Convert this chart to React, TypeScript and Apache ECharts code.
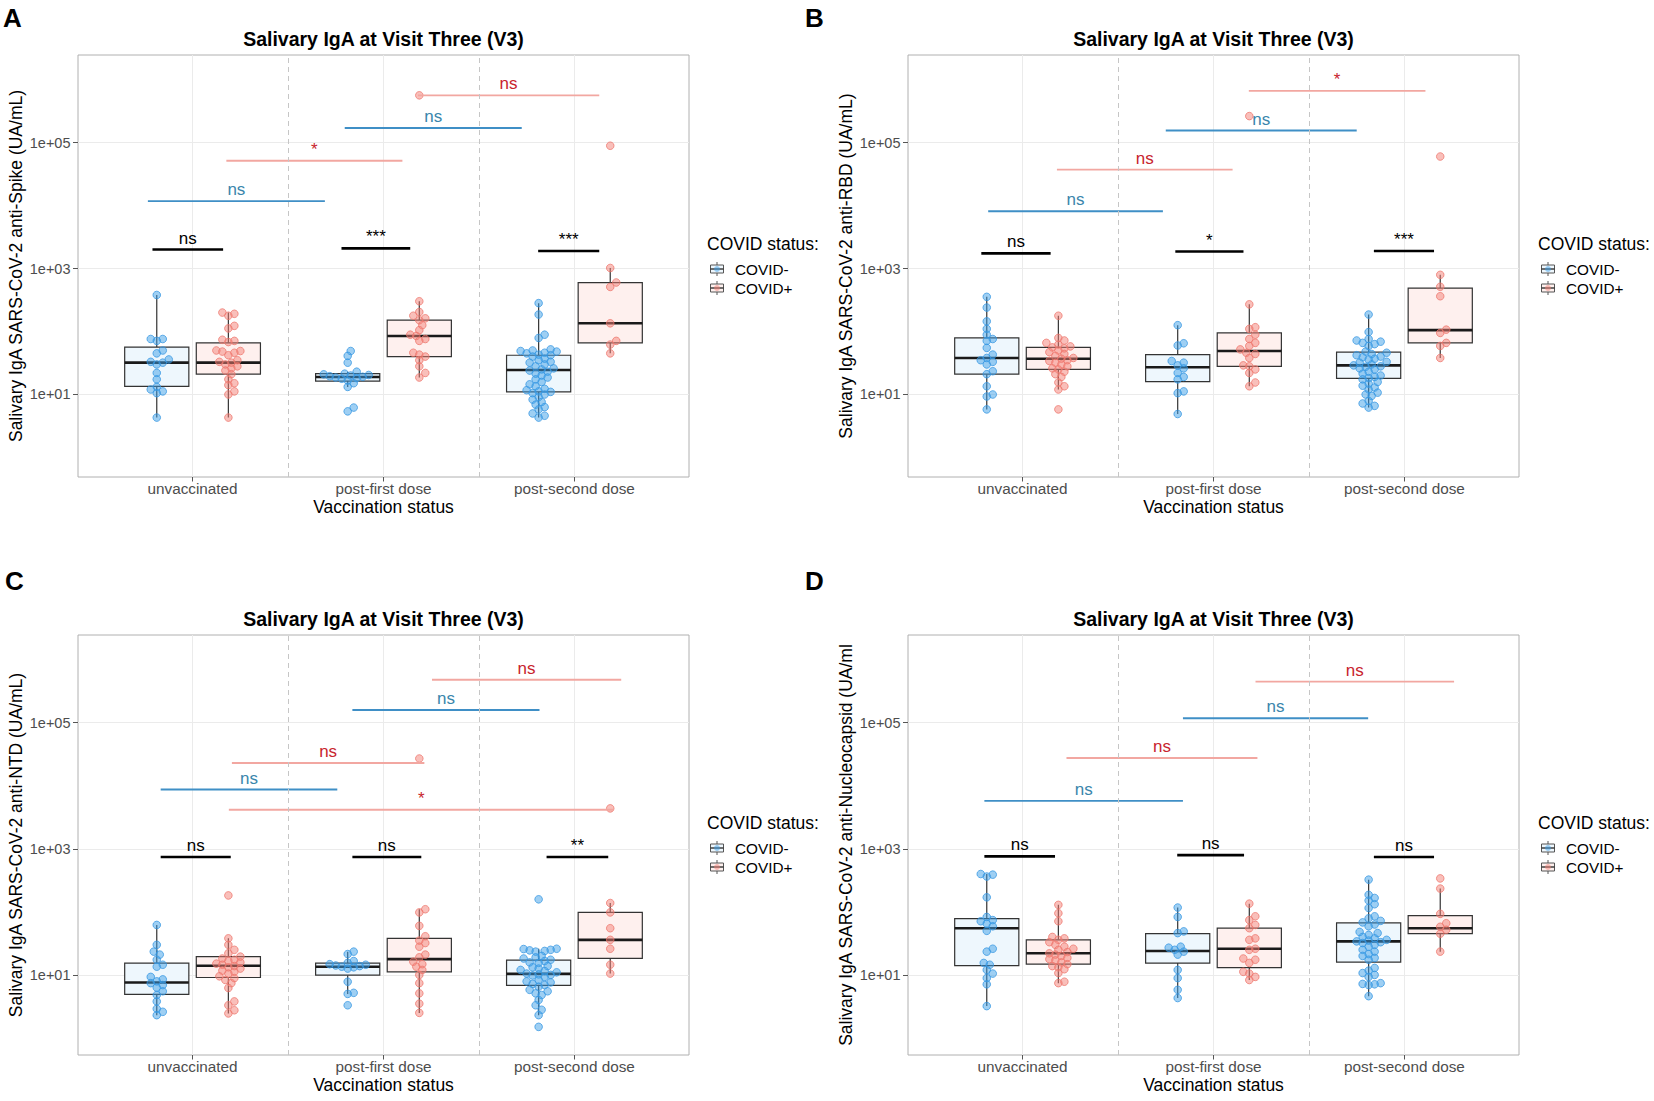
import React, { useEffect, useRef } from 'react';
import * as echarts from 'echarts';

const CATEGORIES = ['unvaccinated', 'post-first dose', 'post-second dose'];
const GROUPS = ['COVID-', 'COVID+'];
const Y_TICK_VALUES = [10, 1000, 100000];
const Y_TICK_LABELS = ['1e+01', '1e+03', '1e+05'];
const TITLE = 'Salivary IgA at Visit Three (V3)';
const X_NAME = 'Vaccination status';
const LEGEND_TITLE = 'COVID status:';

// ---------- Panel A: anti-Spike ----------
const A_NEG = [
  [380, 76, 76, 71, 50, 45, 36, 33, 32, 30, 22, 17.4, 13.2, 12, 11.2, 10.5, 4.3],
  [49, 41, 32, 23, 21.4, 20.9, 20.4, 20, 19.5, 19.1, 18.6, 18.2, 17.8, 16.6, 15.1, 13.2, 6.2, 5.4],
  [282, 186, 89, 79, 52, 50, 49, 48, 46, 45, 43, 42, 40, 37, 35, 33, 32, 30, 28, 26, 25, 24, 23, 21.4, 20, 18.6, 17.4, 15.8, 14.5, 13.5, 12.3, 11.7, 11.2, 11, 10.5, 10, 9.1, 8.3, 7.6, 6.9, 6.3, 5.8, 5, 4.6, 4.3],
];
const A_POS = [
  [200, 191, 178, 123, 112, 74, 71, 68, 50, 49, 48, 46, 42, 35, 33, 32, 30, 28, 26, 24, 21, 17.4, 15.1, 14.1, 11.2, 10, 4.3],
  [302, 204, 178, 162, 151, 126, 105, 89, 85, 76, 71, 46, 43, 40, 35, 28, 22, 18.6, 562000],
  [1020, 600, 510, 135, 71, 62, 45, 89000],
];
const A_NEG_BOX = [[4.3, 13.5, 32, 56.5, 380], [13.2, 16.3, 19, 21.5, 23], [4.3, 11, 24.5, 42, 282]];
const A_POS_BOX = [[4.3, 21, 32, 66, 200], [18.6, 40, 85, 152, 302], [45, 66, 135, 596, 1020]];
const SIG_A = [
  [0.79, 1.16, 2000, 'ns', 'k'],
  [1.78, 2.14, 2090, '***', 'k'],
  [2.81, 3.13, 1900, '***', 'k'],
  [0.766, 1.693, 11750, 'ns', 'b'],
  [1.177, 2.099, 51300, '*', 'r'],
  [1.797, 2.724, 170000, 'ns', 'b'],
  [2.18, 3.13, 562000, 'ns', 'r'],
];

// ---------- Panel B: anti-RBD ----------
const B_NEG = [
  [355, 240, 145, 110, 89, 76, 71, 55, 43, 38, 35, 33, 30, 23.4, 21, 13.5, 10, 9.3, 5.8],
  [126, 65, 60, 34, 32, 29, 26, 22, 19, 17.4, 11.2, 10.5, 4.9],
  [186, 98, 76, 72, 69, 66, 63, 59, 48, 46, 44, 42, 40, 39, 37, 36, 33, 32, 30, 29, 28, 27.5, 26, 25, 23, 21.4, 20, 19, 18.2, 17.4, 15.8, 14.8, 13.8, 12.9, 12, 10.7, 10, 9.5, 7.9, 7.2, 6.6, 6.2],
];
const B_POS = [
  [178, 79, 72, 66, 62, 58, 56, 54, 50, 47, 44, 41, 38, 37, 35, 34, 32, 30, 28, 26, 25, 23, 21, 19, 15.5, 13.5, 12, 5.8],
  [270, 117, 110, 89, 76, 66, 59, 52, 46, 44, 38, 29, 28, 25, 22, 15.5, 13.5, 263000],
  [794, 513, 363, 107, 95, 66, 59, 38, 60000],
];
const B_NEG_BOX = [[5.8, 21, 38, 79, 355], [4.9, 16, 27, 43, 126], [6.2, 18, 29, 47, 186]];
const B_POS_BOX = [[12, 25, 37, 56, 178], [13.5, 28, 49, 95, 270], [38, 66, 105, 490, 794]];
const SIG_B = [
  [0.784, 1.147, 1740, 'ns', 'k'],
  [1.8, 2.157, 1860, '*', 'k'],
  [2.84, 3.155, 1900, '***', 'k'],
  [0.82, 1.735, 8130, 'ns', 'b'],
  [1.18, 2.1, 37150, 'ns', 'r'],
  [1.75, 2.75, 155000, 'ns', 'b'],
  [2.185, 3.11, 661000, '*', 'r'],
];

// ---------- Panel C: anti-NTD ----------
const C_NEG = [
  [62, 30, 23.4, 21, 17.4, 14.5, 13.5, 9.3, 8.5, 7.9, 7.4, 6.9, 6.3, 5.5, 4.8, 3.8, 2.9, 2.6, 2.3],
  [23.4, 21.4, 16.6, 15.5, 14.8, 14.5, 14.1, 13.8, 13.5, 13.2, 12.6, 7.8, 5.2, 5, 3.3],
  [158, 26, 25.7, 25, 24.5, 24, 23.4, 20, 19, 18.2, 17.4, 16.6, 15.8, 15.5, 13.8, 13.2, 12.6, 12, 11.5, 11, 10.5, 10.2, 10, 9.8, 9.3, 8.3, 7.9, 7.6, 7.2, 6.9, 6.5, 5.8, 5.5, 5.1, 4.8, 4, 3.3, 2.8, 2.3, 1.5],
];
const C_POS = [
  [182, 38, 30, 25, 22, 19.5, 18.2, 17.4, 16.6, 15.8, 15.1, 14.5, 13.8, 13.2, 12.6, 11.7, 11.2, 10.5, 9.5, 8.9, 8.3, 7.4, 6.2, 3.8, 3.3, 2.75, 2.45],
  [110, 98, 60, 41, 35, 32, 28, 21, 19, 16.2, 14.8, 13.5, 12, 10, 7.4, 5.1, 3.5, 2.5, 27000],
  [138, 98, 55, 36, 26, 14.5, 10.5, 4370],
];
const C_NEG_BOX = [[2.3, 4.9, 7.6, 15.4, 62], [5, 9.9, 13.5, 15.4, 23.4], [2.3, 6.8, 10.4, 17.2, 26]];
const C_POS_BOX = [[2.45, 9.1, 14, 19.5, 38], [2.5, 11.2, 17.8, 38, 110], [10.5, 18.3, 36, 98, 138]];
const SIG_C = [
  [0.833, 1.2, 741, 'ns', 'k'],
  [1.837, 2.198, 741, 'ns', 'k'],
  [2.854, 3.177, 741, '**', 'k'],
  [0.833, 1.758, 8710, 'ns', 'b'],
  [1.206, 2.214, 22900, 'ns', 'r'],
  [1.19, 3.205, 4170, '*', 'r'],
  [1.837, 2.817, 158500, 'ns', 'b'],
  [2.254, 3.245, 478600, 'ns', 'r'],
];

// ---------- Panel D: anti-Nucleocapsid ----------
const D_NEG = [
  [398, 389, 363, 170, 83, 74, 71, 65, 59, 50, 26, 23.4, 15.5, 14.5, 12, 10.5, 8.9, 7.1, 3.2],
  [117, 83, 49, 46, 28, 27, 25, 23.4, 21, 12, 8.9, 5.8, 4.3],
  [324, 186, 166, 151, 132, 115, 85, 79, 72, 68, 63, 59, 48, 46, 43, 40, 38, 36, 35, 34, 33, 32, 30, 28, 25, 23.4, 21.4, 20, 18.6, 17.4, 12.9, 11.7, 10.7, 10, 9.3, 7.4, 7.2, 7.1, 6.9, 4.6],
];
const D_POS = [
  [129, 95, 71, 40, 38, 36, 33, 30, 28, 26, 25, 23, 22, 21, 20, 18.6, 17.8, 17, 15.8, 14.8, 13.8, 13.2, 12.3, 10.7, 7.8, 7.4],
  [135, 85, 74, 62, 55, 38, 36, 26, 25, 18.2, 17.4, 15.5, 11.2, 10.5, 9.3, 8.3],
  [339, 234, 93, 66, 58, 52, 45, 23.4],
];
const D_NEG_BOX = [[3.2, 14, 55, 78, 398], [4.3, 15.4, 24, 45, 117], [4.6, 15.9, 34, 67, 324]];
const D_POS_BOX = [[7.4, 14.8, 22, 36, 129], [8.3, 13, 26, 55, 135], [23.4, 45, 55, 87, 234]];
const SIG_D = [
  [0.8, 1.17, 759, 'ns', 'k'],
  [1.81, 2.16, 794, 'ns', 'k'],
  [2.84, 3.155, 741, 'ns', 'k'],
  [0.8, 1.84, 5750, 'ns', 'b'],
  [1.23, 2.23, 27500, 'ns', 'r'],
  [1.84, 2.81, 117500, 'ns', 'b'],
  [2.22, 3.26, 446700, 'ns', 'r'],
];

// ---------- styling / layout ----------
const FONT = '"Liberation Sans", Arial, Helvetica, sans-serif';
const DODGE = 0.1875;
const BOX_HALF = 0.168;
const NEG = { pt: 'rgba(62,160,232,0.5)', ptStroke: 'rgba(52,150,225,0.75)', box: '#EEF7FD' };
const POS = { pt: 'rgba(244,128,118,0.5)', ptStroke: 'rgba(238,118,108,0.75)', box: '#FEF0EE' };
const SIG_STYLE: Record<string, { line: string; text: string; w: number }> = {
  k: { line: '#000000', text: '#000000', w: 2.6 },
  b: { line: '#3F8FC6', text: '#3A86AC', w: 1.9 },
  r: { line: '#F2A7A1', text: '#C8242E', w: 1.9 },
};

const PANELS = [
  { letter: 'A', left: 78, top: 55, width: 611, height: 422, ymin: -0.31, ymax: 6.39, titleY: 39, lx: 3, ly: 18, legX: 707, legY: 244,
    yName: 'Salivary IgA SARS-CoV-2 anti-Spike (UA/mL)', neg: A_NEG, pos: A_POS, negBox: A_NEG_BOX, posBox: A_POS_BOX, sig: SIG_A },
  { letter: 'B', left: 908, top: 55, width: 611, height: 422, ymin: -0.31, ymax: 6.39, titleY: 39, lx: 805, ly: 18, legX: 1538, legY: 244,
    yName: 'Salivary IgA SARS-CoV-2 anti-RBD (UA/mL)', neg: B_NEG, pos: B_POS, negBox: B_NEG_BOX, posBox: B_POS_BOX, sig: SIG_B },
  { letter: 'C', left: 78, top: 635, width: 611, height: 420, ymin: -0.27, ymax: 6.39, titleY: 619, lx: 5, ly: 581, legX: 707, legY: 823,
    yName: 'Salivary IgA SARS-CoV-2 anti-NTD (UA/mL)', neg: C_NEG, pos: C_POS, negBox: C_NEG_BOX, posBox: C_POS_BOX, sig: SIG_C },
  { letter: 'D', left: 908, top: 635, width: 611, height: 420, ymin: -0.27, ymax: 6.39, titleY: 619, lx: 805, ly: 581, legX: 1538, legY: 823,
    yName: 'Salivary IgA SARS-CoV-2 anti-Nucleocapsid (UA/ml', neg: D_NEG, pos: D_POS, negBox: D_NEG_BOX, posBox: D_POS_BOX, sig: SIG_D },
];

// beeswarm-like placement so overlapping points spread sideways
function swarm(vals: number[], cx: number, pxX: number, pxY: number) {
  const D = 5.6;
  const STEP = 3;
  const items = vals.map((v, i) => ({ v, i, y: Math.log10(v) * pxY }));
  items.sort((a, b) => a.y - b.y);
  const placed: { x: number; y: number }[] = [];
  const out: number[][] = [];
  items.forEach((it) => {
    let off = 0;
    for (let k = 0; k < 40; k++) {
      const cand = k === 0 ? 0 : (k % 2 ? 1 : -1) * Math.ceil(k / 2) * STEP;
      if (placed.every((q) => (q.x - cand) ** 2 + (q.y - it.y) ** 2 >= D * D)) {
        off = cand;
        break;
      }
    }
    placed.push({ x: off, y: it.y });
    out[it.i] = [cx + off / pxX, it.v];
  });
  return out;
}

function boxRender(fill: string) {
  return (params: any, api: any) => {
    const x = api.value(0);
    const lo = api.value(1), q1 = api.value(2), med = api.value(3), q3 = api.value(4), hi = api.value(5);
    const tl = api.coord([x - BOX_HALF, q3]);
    const br = api.coord([x + BOX_HALF, q1]);
    const pm = api.coord([x, med]);
    const ph = api.coord([x, hi]);
    const pl = api.coord([x, lo]);
    const ws = { stroke: '#333333', lineWidth: 1.2 };
    return {
      type: 'group',
      children: [
        { type: 'line', shape: { x1: ph[0], y1: ph[1], x2: ph[0], y2: tl[1] }, style: ws },
        { type: 'line', shape: { x1: pl[0], y1: br[1], x2: pl[0], y2: pl[1] }, style: ws },
        { type: 'rect', shape: { x: tl[0], y: tl[1], width: br[0] - tl[0], height: br[1] - tl[1] }, style: { fill, stroke: '#333333', lineWidth: 1.2 } },
        { type: 'line', shape: { x1: tl[0], y1: pm[1], x2: br[0], y2: pm[1] }, style: { stroke: '#1A1A1A', lineWidth: 2.6 } },
      ],
    };
  };
}

function sigRender(sig: any[]) {
  return (params: any, api: any) => {
    const s = sig[params.dataIndex];
    const st = SIG_STYLE[s[4]];
    const p1 = api.coord([api.value(0), api.value(2)]);
    const p2 = api.coord([api.value(1), api.value(2)]);
    return {
      type: 'group',
      children: [
        { type: 'line', shape: { x1: p1[0], y1: p1[1], x2: p2[0], y2: p2[1] }, style: { stroke: st.line, lineWidth: st.w } },
        {
          type: 'text',
          x: (p1[0] + p2[0]) / 2,
          y: p1[1] - 3,
          style: { text: s[3], fill: st.text, font: `17px ${FONT}`, align: 'center', verticalAlign: 'bottom' },
        },
      ],
    };
  };
}

function legendItems(x: number, y: number) {
  const els: any[] = [];
  els.push({ type: 'text', x, y, style: { text: LEGEND_TITLE, font: `17.5px ${FONT}`, fill: '#000', textAlign: 'left', textVerticalAlign: 'middle', align: 'left', verticalAlign: 'middle' } });
  [NEG, POS].forEach((c, i) => {
    const cy = y + 25 + i * 19;
    const cx = x + 10;
    els.push({ type: 'line', shape: { x1: cx, y1: cy - 7, x2: cx, y2: cy + 7 }, style: { stroke: '#555', lineWidth: 1 } });
    els.push({ type: 'rect', shape: { x: cx - 6.5, y: cy - 4, width: 13, height: 8 }, style: { fill: c.box, stroke: '#555', lineWidth: 1 } });
    els.push({ type: 'line', shape: { x1: cx - 6.5, y1: cy, x2: cx + 6.5, y2: cy }, style: { stroke: '#333', lineWidth: 1.4 } });
    els.push({ type: 'circle', shape: { cx, cy, r: 3 }, style: { fill: c.pt } });
    els.push({ type: 'text', x: x + 28, y: cy, style: { text: GROUPS[i], font: `15.3px ${FONT}`, fill: '#000', textAlign: 'left', textVerticalAlign: 'middle', align: 'left', verticalAlign: 'middle' } });
  });
  return els;
}

function buildOption() {
  const grid: any[] = [];
  const xAxis: any[] = [];
  const yAxis: any[] = [];
  const series: any[] = [];
  const graphic: any[] = [];

  PANELS.forEach((p, i) => {
    const pxX = p.width / 3.2;
    const pxY = p.height / (p.ymax - p.ymin);
    grid.push({
      left: p.left, top: p.top, width: p.width, height: p.height,
      show: true, borderColor: '#B0B0B0', borderWidth: 1, backgroundColor: '#FFFFFF',
      containLabel: false, outerBoundsMode: 'none',
    });
    xAxis.push({
      gridIndex: i, type: 'value', min: 0.4, max: 3.6, minInterval: 1, maxInterval: 1,
      name: X_NAME, nameLocation: 'middle', nameGap: 21,
      nameTextStyle: { fontSize: 17.5, color: '#000', fontFamily: FONT },
      axisLine: { show: false },
      axisTick: { show: true, length: 4.5, lineStyle: { color: '#555' }, customValues: [1, 2, 3] },
      axisLabel: {
        customValues: [1, 2, 3], margin: 4, fontSize: 15.3, color: '#4D4D4D', fontFamily: FONT,
        formatter: (v: number) => { const r = Math.round(v); return Math.abs(v - r) < 1e-6 && r >= 1 && r <= 3 ? CATEGORIES[r - 1] : ''; },
      },
      splitLine: { show: true, lineStyle: { color: '#EBEBEB', width: 1 } },
    });
    yAxis.push({
      gridIndex: i, type: 'log', logBase: 10, min: Math.pow(10, p.ymin), max: Math.pow(10, p.ymax),
      name: p.yName, nameLocation: 'middle', nameRotate: 90, nameGap: 53,
      nameTextStyle: { fontSize: 17.5, color: '#000', fontFamily: FONT },
      axisLine: { show: false },
      axisTick: { show: true, length: 5, lineStyle: { color: '#555' }, customValues: Y_TICK_VALUES },
      axisLabel: {
        customValues: Y_TICK_VALUES, margin: 7.5, fontSize: 14.5, color: '#4D4D4D', fontFamily: FONT,
        formatter: (v: number) => {
          const l = Math.log10(v);
          const idx = Y_TICK_VALUES.findIndex((t) => Math.abs(Math.log10(t) - l) < 1e-6);
          return idx >= 0 ? Y_TICK_LABELS[idx] : '';
        },
      },
      splitLine: { show: true, lineStyle: { color: '#EBEBEB', width: 1 } },
      minorTick: { show: false },
    });

    [
      { boxes: p.negBox, pts: p.neg, c: NEG, off: -DODGE, name: GROUPS[0] },
      { boxes: p.posBox, pts: p.pos, c: POS, off: DODGE, name: GROUPS[1] },
    ].forEach((g, gi) => {
      series.push({
        type: 'custom', name: g.name, xAxisIndex: i, yAxisIndex: i, z: 2,
        encode: { x: 0, y: [1, 2, 3, 4, 5] },
        data: g.boxes.map((b, ci) => [ci + 1 + g.off, ...b]),
        renderItem: boxRender(g.c.box),
      });
      const pts: number[][] = [];
      g.pts.forEach((vals, ci) => { swarm(vals, ci + 1 + g.off, pxX, pxY).forEach((d) => pts.push(d)); });
      const s: any = {
        type: 'scatter', name: g.name, xAxisIndex: i, yAxisIndex: i, z: 3,
        symbol: 'circle', symbolSize: 7.6, data: pts,
        itemStyle: { color: g.c.pt, borderColor: g.c.ptStroke, borderWidth: 1, opacity: 1 },
      };
      if (gi === 0) {
        s.markLine = {
          silent: true, symbol: ['none', 'none'], label: { show: false },
          lineStyle: { type: [5, 4], color: '#C6C6C6', width: 1 },
          data: [{ xAxis: 1.5 }, { xAxis: 2.5 }],
        };
      }
      series.push(s);
    });

    series.push({
      type: 'custom', xAxisIndex: i, yAxisIndex: i, z: 4,
      encode: { x: [0, 1], y: 2 },
      data: p.sig.map((s) => [s[0], s[1], s[2]]),
      renderItem: sigRender(p.sig),
    });

    graphic.push({ type: 'text', x: p.left + p.width / 2, y: p.titleY, style: { text: TITLE, font: `bold 19.5px ${FONT}`, fill: '#000', textAlign: 'center', textVerticalAlign: 'middle', align: 'center', verticalAlign: 'middle' } });
    graphic.push({ type: 'text', x: p.lx, y: p.ly, style: { text: p.letter, font: `bold 26px ${FONT}`, fill: '#000', textAlign: 'left', textVerticalAlign: 'middle', align: 'left', verticalAlign: 'middle' } });
    legendItems(p.legX, p.legY).forEach((e) => graphic.push(e));
  });

  return {
    animation: false,
    backgroundColor: '#FFFFFF',
    textStyle: { fontFamily: FONT },
    grid, xAxis, yAxis, series, graphic,
  };
}

export default function App() {
  const ref = useRef<HTMLDivElement>(null);
  useEffect(() => {
    if (!ref.current) return;
    const chart = echarts.init(ref.current, null, { renderer: 'svg' });
    chart.setOption(buildOption() as any);
    return () => chart.dispose();
  }, []);
  return <div ref={ref} style={{ position: 'fixed', left: 0, top: 0, width: 1654, height: 1101, background: '#fff' }} />;
}
